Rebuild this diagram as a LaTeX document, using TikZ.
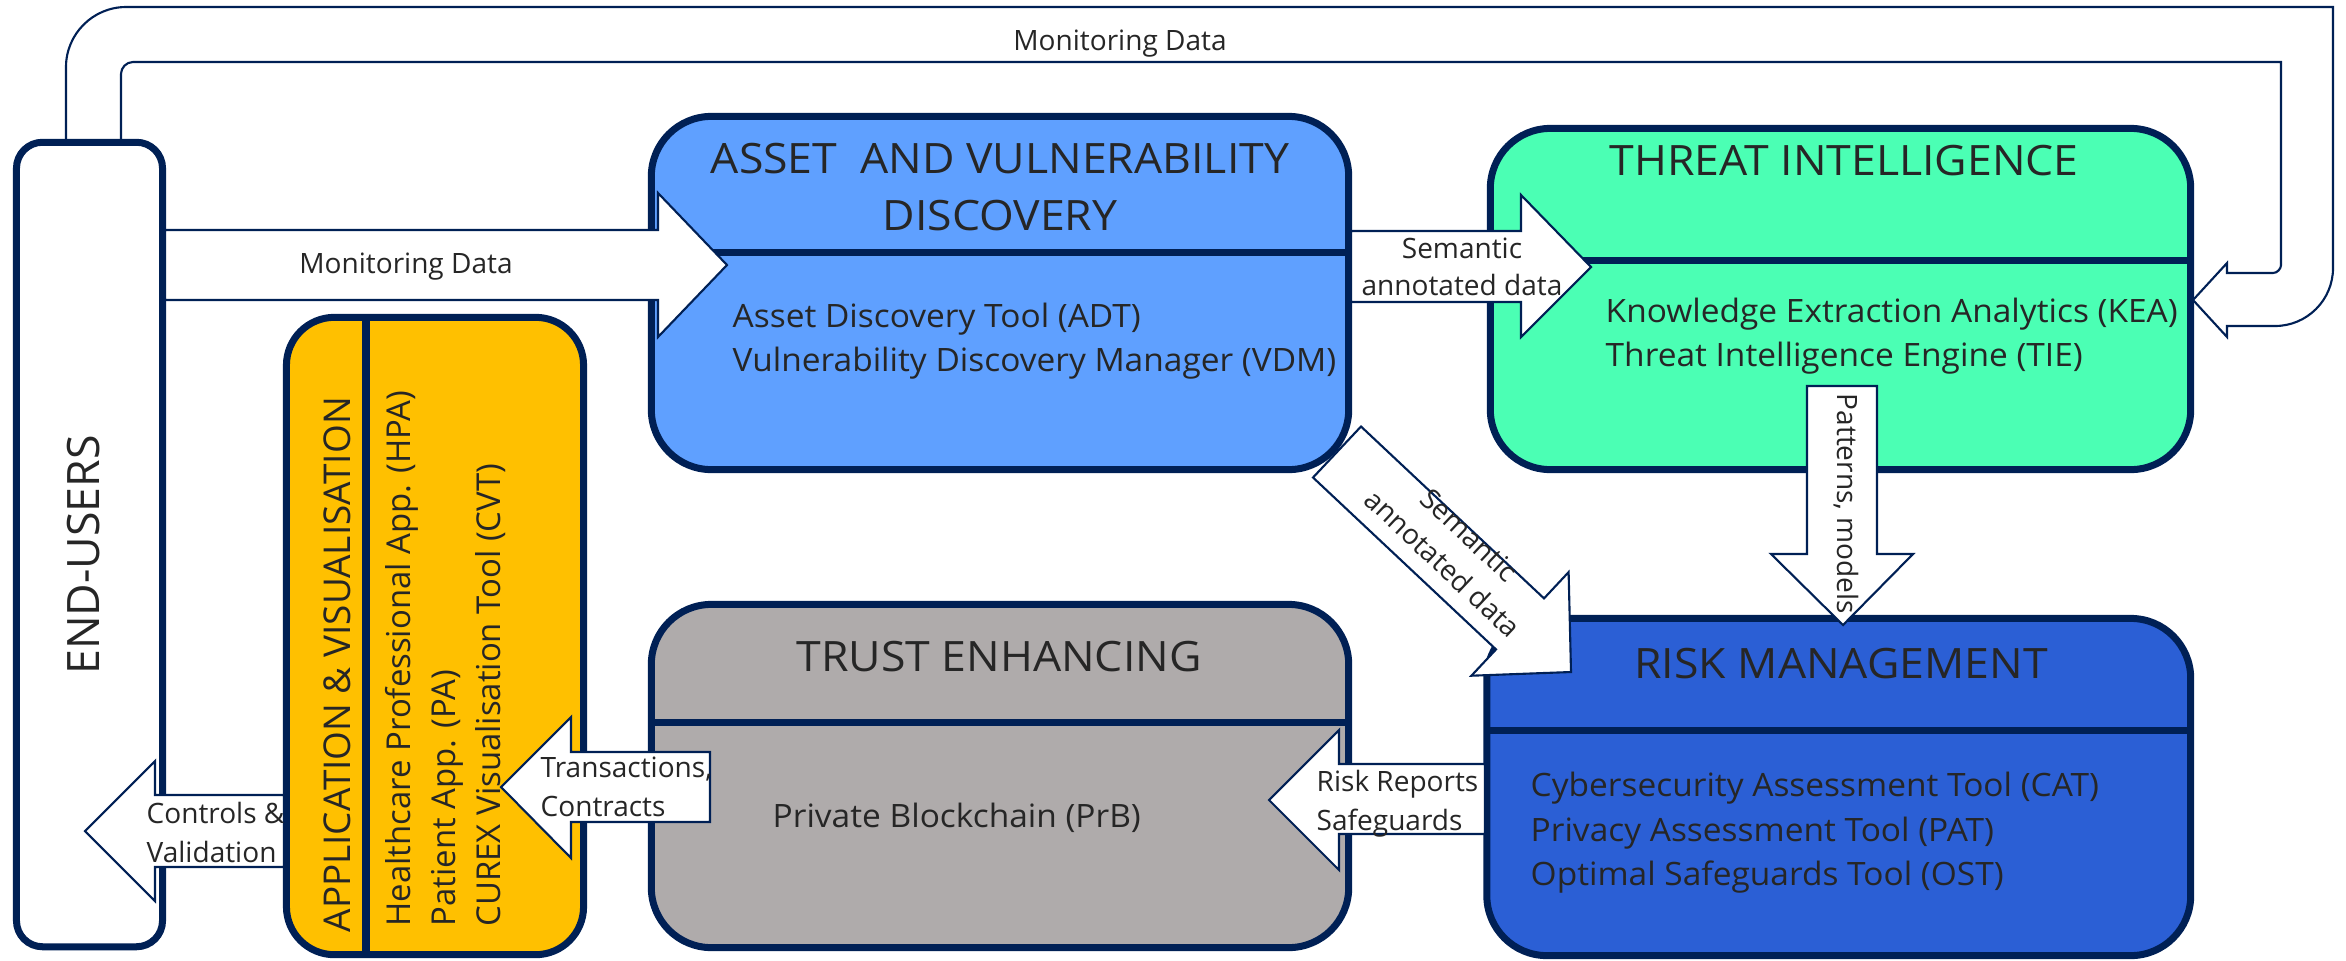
\documentclass[tikz,border=0pt]{standalone}
\usepackage{fontspec}
\setmainfont{Open Sans}
\newfontfamily\wideitem[FakeStretch=1.04]{Open Sans}
\newfontfamily\widetitle[FakeStretch=1.065]{Open Sans}
\definecolor{navy}{RGB}{0,32,85}
\definecolor{assetc}{RGB}{95,160,255}
\definecolor{threatc}{RGB}{75,255,180}
\definecolor{riskc}{RGB}{43,95,213}
\definecolor{trustc}{RGB}{175,171,171}
\definecolor{appc}{RGB}{255,192,0}
\definecolor{txt}{RGB}{38,38,38}
\begin{document}
\begin{tikzpicture}[x=0.01cm, y=-0.01cm,
  box/.style={draw=navy, line width=0.07cm, rounded corners=0.6cm, inner sep=0pt, outer sep=0pt},
  divider/.style={draw=navy, line width=0.07cm},
  flow/.style={draw=navy, line width=0.6pt, fill=white, line join=miter, miter limit=10},
  title/.style={font=\widetitle\fontsize{11.9}{16}\selectfont, text=txt, inner sep=0pt},
  bigtitle/.style={font=\fontsize{12.7}{16}\selectfont, text=txt, inner sep=0pt},
  item/.style={font=\wideitem\fontsize{9.15}{12.5}\selectfont, text=txt, inner sep=0pt, anchor=base west},
  lab/.style={font=\fontsize{7.97}{11.1}\selectfont, text=txt, inner sep=0pt},
  apptitle/.style={font=\fontsize{10.5}{12}\selectfont, text=txt, inner sep=0pt, rotate=90, anchor=base west},
  appitem/.style={font=\fontsize{9.35}{12}\selectfont, text=txt, inner sep=0pt, rotate=90, anchor=base west},
]
\useasboundingbox (0,0) rectangle (2346,960);

% feedback loop arrow (Monitoring Data)
\draw[flow] (66,139) -- (66,67) .. controls (66,34) and (93,7) .. (126,7) -- (2333,7) -- (2333,268)
  .. controls (2333,300) and (2307,326) .. (2275,326) -- (2227,326) -- (2227,337) -- (2193,300)
  -- (2227,263) -- (2227,273) -- (2273,273) .. controls (2277.4,273) and (2281,268.6) .. (2281,265)
  -- (2281,62) -- (133,62) .. controls (126.4,62) and (121,67.6) .. (121,74) -- (121,139);

% boxes
\node[box, fill=assetc, minimum width=6.97cm, minimum height=3.53cm] (asset) at (1000,293) {};
\draw[divider] (651.5,252) -- (1348.5,252);
\node[box, fill=threatc, minimum width=7cm, minimum height=3.41cm] (threat) at (1840.5,299) {};
\draw[divider] (1490.5,260) -- (2190.5,260);
\node[box, fill=trustc, minimum width=6.97cm, minimum height=3.43cm] (trust) at (1000,776) {};
\draw[divider] (651.5,722) -- (1348.5,722);
\node[box, fill=riskc, minimum width=7.035cm, minimum height=3.37cm] (risk) at (1838.75,787) {};
\draw[divider] (1487,730) -- (2190.5,730);
\node[box, fill=appc, rounded corners=0.48cm, minimum width=2.97cm, minimum height=6.37cm] (app) at (435,636) {};
\draw[divider, line width=0.08cm] (366,317.5) -- (366,954.5);
\node[box, fill=white, rounded corners=0.26cm, minimum width=1.46cm, minimum height=8.04cm] (users) at (89.5,544.5) {};

% block arrows
\draw[flow] (165,230) -- (658,230) -- (658,193) -- (727,265) -- (658,337) -- (658,300) -- (165,300) -- cycle;
\draw[flow] (1351,231) -- (1521,231) -- (1521,195) -- (1591,267) -- (1521,337) -- (1521,302) -- (1351,302) -- cycle;
\draw[flow] (1361,426.5) -- (1544,598.4) -- (1568.6,572.1) -- (1571,672) -- (1471.4,675.7) -- (1496,649.4) -- (1313,477.5) -- cycle;
\draw[flow] (1807,386) -- (1807,554) -- (1771,554) -- (1843,625) -- (1913,554) -- (1877,554) -- (1877,386) -- cycle;
\draw[flow] (1485,764) -- (1339,764) -- (1339,730) -- (1269,800) -- (1339,870) -- (1339,834) -- (1485,834) -- cycle;
\draw[flow] (710,752) -- (571,752) -- (571,717) -- (501,787) -- (571,858) -- (571,822) -- (710,822) -- cycle;
\draw[flow] (284,795) -- (155,795) -- (155,761) -- (85,831) -- (155,901) -- (155,867) -- (284,867) -- cycle;

% arrow labels
\node[lab, anchor=base] (looplab) at (1120,50) {Monitoring Data};
\node[lab, anchor=base] (monlab) at (406,273) {Monitoring Data};
\node[lab, anchor=base] (sem1) at (1462,258) {Semantic};
\node[lab, anchor=base] (sem2) at (1462,295) {annotated data};
\node[lab, rotate=-43.2, anchor=base] (semd1) at (1462.5,542.5) {Semantic};
\node[lab, rotate=-43.2, anchor=base] (semd2) at (1435.8,570.9) {annotated data};
\node[lab, rotate=-90, anchor=base west] (patlab) at (1837,393) {Patterns, models};
\node[lab, anchor=base west] (risk1) at (1316,791) {Risk Reports};
\node[lab, anchor=base west] (risk2) at (1316,830) {Safeguards};
\node[lab, anchor=base west] (tr1) at (540,777) {Transactions,};
\node[lab, anchor=base west] (tr2) at (540,816) {Contracts};
\node[lab, anchor=base west] (ct1) at (146,823) {Controls \&};
\node[lab, anchor=base west] (ct2) at (146,862) {Validation};

% box texts
\node[bigtitle, rotate=90] (userst) at (84,555) {END-USERS};
\node[apptitle] (appt) at (350,933) {APPLICATION \& VISUALISATION};
\node[appitem] (app1) at (410,927) {Healthcare Professional App. (HPA)};
\node[appitem] (app2) at (455,927) {Patient App. (PA)};
\node[appitem] (app3) at (500,927) {CUREX Visualisation Tool (CVT)};

\node[title, anchor=base] (assett1) at (1000,173) {ASSET\ \ AND VULNERABILITY};
\node[title, anchor=base] (assett2) at (1000,230) {DISCOVERY};
\node[item] (asset1) at (732,327) {Asset Discovery Tool (ADT)};
\node[item] (asset2) at (732,371) {Vulnerability Discovery Manager (VDM)};

\node[title, anchor=base] (threatt) at (1844,175) {THREAT INTELLIGENCE};
\node[item] (threat1) at (1605,322) {Knowledge Extraction Analytics (KEA)};
\node[item] (threat2) at (1605,366) {Threat Intelligence Engine (TIE)};

\node[title, anchor=base] (trustt) at (999,671) {TRUST ENHANCING};
\node[item] (trust1) at (772,827) {Private Blockchain (PrB)};

\node[title, anchor=base] (riskt) at (1841,678) {RISK MANAGEMENT};
\node[item] (risk1i) at (1530,796) {Cybersecurity Assessment Tool (CAT)};
\node[item] (risk2i) at (1530,841) {Privacy Assessment Tool (PAT)};
\node[item] (risk3i) at (1530,885) {Optimal Safeguards Tool (OST)};
\end{tikzpicture}
\end{document}
